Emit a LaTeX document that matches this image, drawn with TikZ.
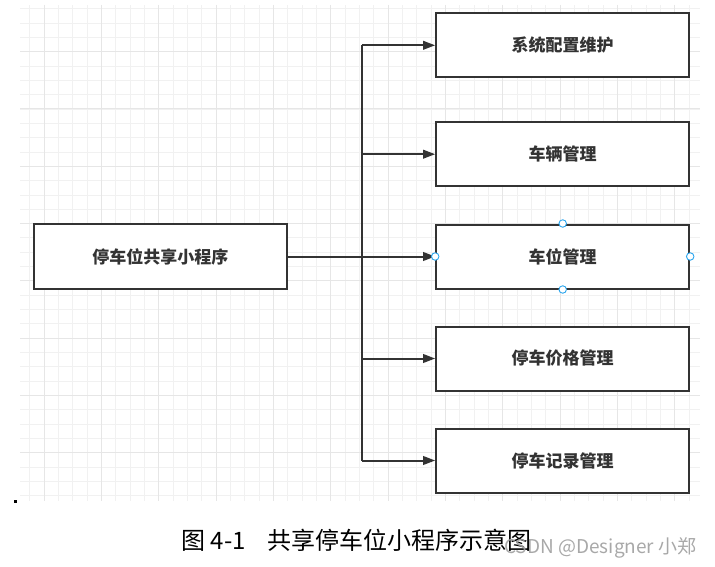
\documentclass[tikz,border=0pt]{standalone}
\usepackage{fontspec}
\newfontfamily\cjk{Noto Sans CJK SC}
\usetikzlibrary{arrows.meta}

\definecolor{ink}{HTML}{333333}
\definecolor{gridminor}{HTML}{F1F1F1}
\definecolor{gridmajor}{HTML}{E6E6E6}
\definecolor{handleblue}{HTML}{2AA5EE}

\begin{document}
\begin{tikzpicture}[
  x=1pt, y=-1pt,
  box/.style={draw=ink, line width=2pt, fill=white, minimum width=253pt, minimum height=64pt, font=\cjk\bfseries\fontsize{17}{20}\selectfont, text=ink},
  arrow/.style={-{Triangle[length=12pt,width=8.5pt]}, draw=ink, line width=2pt},
  handle/.style={circle, draw=handleblue, fill=white, line width=0.9pt, inner sep=0pt, minimum size=7.5pt},
  caption/.style={font=\cjk\fontsize{24}{28}\selectfont, text=black},
]
\useasboundingbox (0,0) rectangle (715,567);

% Grid
\begin{scope}
\clip (20,5) rectangle (700,501);
\foreach \i in {-2,...,47} \draw[gridminor, line width=1pt] ({44.33+14.333*\i},5) -- ++(0,496);
\foreach \i in {-4,...,31} \draw[gridminor, line width=1pt] (20,{51.67+14.333*\i}) -- ++(680,0);
\foreach \i in {0,...,11} \draw[gridmajor, line width=1pt] ({44.33+57.33*\i},5) -- ++(0,496);
\foreach \i in {-1,...,8} \draw[gridmajor, line width=1pt] (20,{51.67+57.33*\i}) -- ++(680,0);
\end{scope}

% Root
\node[box, minimum height=65pt] (root) at (160.3,256.5) {停车位共享小程序};

% Modules
\node[box] (b1) at (562.7,45.3) {系统配置维护};
\node[box] (b2) at (562.7,154.2) {车辆管理};
\node[box] (b3) at (562.7,256.5) {车位管理};
\node[box] (b4) at (562.7,358.5) {停车价格管理};
\node[box] (b5) at (562.7,460.5) {停车记录管理};

% Connectors
\coordinate (trunk) at (362.3,256.5);
\draw[ink, line width=2pt] (trunk |- b1) -- (trunk |- b5);
\draw[arrow] (root) -- (b3);
\draw[arrow] (trunk |- b1) -- (b1);
\draw[arrow] (trunk |- b2) -- (b2);
\draw[arrow] (trunk |- b4) -- (b4);
\draw[arrow] (trunk |- b5) -- (b5);

% Selection handles
\node[handle] (hn) at (b3.north) {};
\node[handle] (hw) at (b3.west) {};
\node[handle] (he) at (b3.east) {};
\node[handle] (hs) at (b3.south) {};

\fill[black] (14,500) rectangle (16.5,503);

% Caption
\node[caption] (cap) at (356.5,540) {图 4-1\hspace{22pt}共享停车位小程序示意图};
\node[font=\cjk\fontsize{19}{22}\selectfont, text=gray!75, opacity=0.9, anchor=east] (mark) at (700,548) {CSDN @Designer 小郑};

\end{tikzpicture}
\end{document}
